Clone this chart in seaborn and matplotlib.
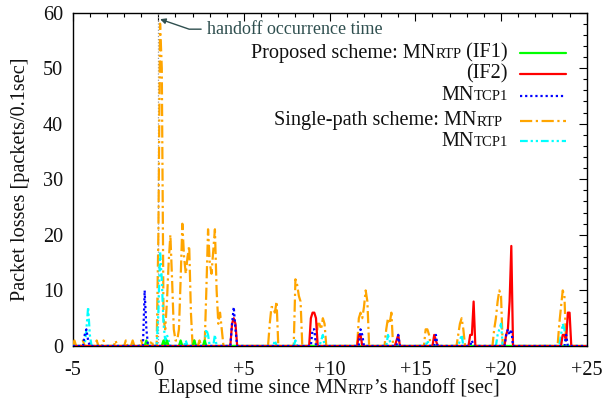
import matplotlib
matplotlib.use("Agg")
import matplotlib.pyplot as plt
import numpy as np
import pandas as pd
import seaborn as sns
from matplotlib.offsetbox import TextArea, HPacker, AnchoredOffsetbox
from matplotlib.lines import Line2D
from matplotlib.ticker import MultipleLocator

# ---------------- data (packet losses per 0.1 s) ----------------
# Single-path scheme: MN_RTP
single_rtp_t = [-5.0, -4.9, -4.8, -4.5, -4.4, -4.3, -3.7, -3.6, -3.5, -3.3, -3.2, -3.1,
                -2.6, -2.5, -2.4, -2.0, -1.9, -1.8, -1.6, -1.5, -1.4, -1.1, -1.0, -0.9,
                -0.5, -0.4, -0.3, -0.1, 0.0, 0.1, 0.2, 0.3, 0.4, 0.5, 0.6, 0.7, 0.8, 0.9,
                1.0, 1.1, 1.2, 1.3, 1.4, 1.5, 1.6, 1.7, 1.8, 1.9, 2.0, 2.1, 2.2, 2.3, 2.4,
                2.5, 2.7, 2.8, 2.9, 3.0, 3.1, 3.2, 3.3, 3.4, 3.5, 3.6, 3.7, 3.8,
                6.4, 6.5, 6.6, 6.7, 6.8, 6.9, 7.0,
                7.9, 8.0, 8.1, 8.2, 8.3, 8.4,
                9.2, 9.3, 9.4, 9.5, 9.6, 9.7, 9.8,
                11.6, 11.7, 11.8, 11.9, 12.0, 12.1, 12.2, 12.3,
                13.2, 13.3, 13.4, 13.5, 13.6, 13.7,
                15.5, 15.6, 15.7, 15.8, 15.9,
                17.4, 17.5, 17.6, 17.7, 17.8, 17.9,
                19.5, 19.6, 19.7, 19.8, 19.9, 20.0, 20.1,
                23.3, 23.4, 23.5, 23.6, 23.7, 23.8, 25.0]
single_rtp_v = [0, 1, 0, 0, 1, 0, 0, 1, 0, 0, 1, 0,
                0, 1, 0, 0, 1, 0, 0, 1, 0, 0, 1, 0,
                0, 1, 0, 0, 20, 58, 50, 5, 3, 8, 15, 20, 12, 3,
                1, 1, 3, 12, 22, 16, 13, 16, 18, 6, 0, 1, 0, 0, 1,
                0, 0, 10, 21, 15, 13, 17, 21, 10, 4, 6, 3, 0,
                0, 4, 7, 7, 6, 8, 0,
                0, 12, 11, 9, 8, 0,
                0, 4, 4, 3, 5, 4, 0,
                0, 5, 6, 5, 7, 10, 8, 0,
                0, 3, 5, 4, 6, 0,
                0, 3, 3, 2, 0,
                0, 2, 4, 5, 3, 0,
                0, 3, 5, 8, 10, 9, 0,
                0, 4, 7, 10, 9, 0, 0]

# Single-path scheme: MN_TCP1
single_tcp_t = [-5.0, -4.3, -4.2, -4.1, -4.0, -3.9,
                -0.1, 0.0, 0.1, 0.2, 0.3, 0.4, 0.5, 0.6, 0.7,
                1.5, 1.6, 1.7, 2.7, 2.8, 2.9, 3.0, 3.2, 3.3, 3.4,
                6.7, 6.8, 6.9, 7.9, 8.0, 8.1, 9.4, 9.5, 9.6, 9.7,
                13.3, 13.4, 13.5, 13.6, 15.6, 15.7, 15.8,
                17.5, 17.6, 17.7, 17.8,
                19.7, 19.8, 19.9, 20.0, 20.1,
                23.4, 23.5, 23.6, 23.7, 23.8, 25.0]
single_tcp_v = [0, 0, 3, 7, 2, 0,
                0, 6, 17, 12, 4, 1, 2, 1, 0,
                0, 1, 0, 0, 3, 2, 0, 0, 2, 0,
                0, 1, 0, 0, 1, 0, 0, 1, 2, 0,
                0, 2, 1, 0, 0, 1, 0,
                0, 1, 2, 0,
                0, 2, 3, 4, 0,
                0, 2, 4, 3, 0, 0]

# Proposed scheme: MN_RTP (IF1)
prop_if1_t = [-5.0, -0.8, -0.7, -0.6, 0.2, 0.3, 0.4, 0.5, 0.6, 1.2, 1.3, 1.4,
              2.0, 2.1, 2.2, 2.6, 2.7, 2.8, 25.0]
prop_if1_v = [0, 0, 1, 0, 0, 1, 0, 1, 0, 0, 1, 0,
              0, 1, 0, 0, 1, 0, 0]

# Proposed scheme: MN_RTP (IF2)
prop_if2_t = [-5.0, 4.2, 4.3, 4.4, 4.5, 4.6,
              8.8, 8.9, 9.0, 9.1, 9.2, 9.3,
              11.6, 11.7, 11.8, 11.9,
              13.8, 13.9, 14.0, 14.1,
              16.0, 16.1, 16.2, 16.3,
              18.1, 18.2, 18.3, 18.4, 18.5,
              20.2, 20.3, 20.4, 20.5, 20.6, 20.7,
              23.5, 23.6, 23.7, 23.8, 23.9, 24.0, 24.1, 25.0]
prop_if2_v = [0, 0, 4, 5, 4, 0,
              0, 5, 6, 6, 5, 0,
              0, 2, 2, 0,
              0, 1, 2, 0,
              0, 2, 1, 0,
              0, 2, 2, 8, 0,
              0, 2, 3, 8, 18, 0,
              0, 2, 2, 1, 6, 6, 0, 0]

# Proposed scheme: MN_TCP1
prop_tcp_t = [-5.0, -4.4, -4.3, -4.2, -4.1, -4.0,
              -0.9, -0.8, -0.7, -0.6,
              4.2, 4.3, 4.4, 4.5, 4.6,
              8.9, 9.0, 9.1, 9.2,
              11.7, 11.8, 11.9, 12.0,
              13.9, 14.0, 14.1,
              16.1, 16.2, 16.3,
              18.2, 18.3, 18.4,
              20.2, 20.3, 20.4, 20.5, 20.6, 20.7,
              23.7, 23.8, 23.9, 25.0]
prop_tcp_v = [0, 0, 2, 3, 1, 0,
              0, 10, 3, 0,
              0, 4, 7, 3, 0,
              0, 3, 3, 0,
              0, 3, 2, 0,
              0, 2, 0,
              0, 2, 0,
              0, 1, 0,
              0, 2, 3, 2, 3, 0,
              0, 2, 0, 0]

# ---------------- style ----------------
sns.set_theme(style="white")
plt.rcParams["font.family"] = ["Liberation Serif", "DejaVu Serif"]

FS = 14.6
SC = 10.6
W, H = 605, 404

fig = plt.figure(figsize=(6.05, 4.04), dpi=100)
ax = fig.add_axes([72.7 / W, (H - 346) / H, (586.7 - 72.7) / W, (346 - 12.5) / H])

def fx(px):
    return px / W

def fy(py):
    return 1 - py / H

ORANGE = "#ffa500"
CYAN = "#00ffff"
GREEN = "#00ff00"
RED = "#ff0000"
BLUE = "#0000ff"
LW = 1.6

DASH_OR = (0, (5.5, 1.6, 1, 1.6))
DASH_CY = (0, (3.5, 1.3, 1, 1.3, 1, 1.3))
DOT_BL = (0, (1, 1.3))

styles = [
    (single_rtp_t, single_rtp_v, ORANGE, DASH_OR),
    (single_tcp_t, single_tcp_v, CYAN, DASH_CY),
    (prop_if1_t, prop_if1_v, GREEN, "-"),
    (prop_if2_t, prop_if2_v, RED, "-"),
    (prop_tcp_t, prop_tcp_v, BLUE, DOT_BL),
]

# handoff reference line
ax.axvline(0, color="#999999", lw=0.9, ls=(0, (1, 1.5)), zorder=1)

for t, v, c, ls in styles:
    df = pd.DataFrame({"t": t, "v": v})
    sns.lineplot(data=df, x="t", y="v", ax=ax, color=c, lw=LW, linestyle=ls,
                 estimator=None, sort=False, zorder=3)

ax.set_xlim(-5, 25)
ax.set_ylim(0, 60)
ax.set_xticks([-5, 0, 5, 10, 15, 20, 25])
ax.set_xticklabels(["-5", "0", "+5", "+10", "+15", "+20", "+25"])
ax.set_yticks([0, 10, 20, 30, 40, 50, 60])
ax.set_yticklabels(["0", "10", "20", "30", "40", "50", "60"])
ax.xaxis.set_minor_locator(MultipleLocator(1))
ax.yaxis.set_minor_locator(MultipleLocator(2))
ax.tick_params(which="both", direction="in", top=True, right=True,
               labelsize=FS, color="black", labelcolor="#111111")
ax.tick_params(axis="x", which="major", length=6, width=0.8, pad=11)
ax.tick_params(axis="y", which="major", length=6, width=0.8, pad=7)
ax.tick_params(which="minor", length=3, width=0.8)
for s in ax.spines.values():
    s.set_color("black")
    s.set_linewidth(1.0)

ax.set_xlabel("")
ax.set_ylabel("Packet losses [packets/0.1sec]", fontsize=FS, color="#111111", labelpad=9)

# annotation
ax.annotate("handoff occurrence time", xy=(0.1, 58.8), xytext=(2.85, 57.0),
            textcoords="data", ha="left", va="center", fontsize=13, color="#2f4f4f",
            arrowprops=dict(arrowstyle="-|>", color="#2f4f4f", lw=1.0,
                            connectionstyle="angle,angleA=0,angleB=-19,rad=0",
                            shrinkA=2, shrinkB=0, mutation_scale=8))

def sc_row(parts):
    kids = [TextArea(txt, textprops=dict(fontsize=sz, color="#111111"))
            for txt, sz in parts]
    return HPacker(children=kids, align="baseline", pad=0, sep=0)

def place(box, x, y, loc):
    ab = AnchoredOffsetbox(loc=loc, child=box, pad=0, borderpad=0, frameon=False,
                           bbox_to_anchor=(fx(x), fy(y)), bbox_transform=fig.transFigure)
    fig.add_artist(ab)

# legend (manual, small-caps subscripts)
legend_rows = [
    ([("Proposed scheme: MN", FS), ("RTP", SC), (" (IF1)", FS)], 508, 53, GREEN, "-"),
    ([("(IF2)", FS)], 508, 74, RED, "-"),
    ([("MN", FS), ("TCP1", SC)], 508, 96, BLUE, DOT_BL),
    ([("Single-path scheme: MN", FS), ("RTP", SC)], 503, 121, ORANGE, DASH_OR),
    ([("MN", FS), ("TCP1", SC)], 508, 141, CYAN, DASH_CY),
]
for parts, xr, yc, col, ls in legend_rows:
    place(sc_row(parts), xr, yc, "center right")
    fig.add_artist(Line2D([fx(520), fx(566)], [fy(yc), fy(yc)], transform=fig.transFigure,
                          color=col, lw=LW, linestyle=ls))

# x label with small caps
place(sc_row([("Elapsed time since MN", FS), ("RTP", SC), ("\u2019s handoff [sec]", FS)]),
      329, 389, "center")

fig.savefig("out.png", dpi=100)
